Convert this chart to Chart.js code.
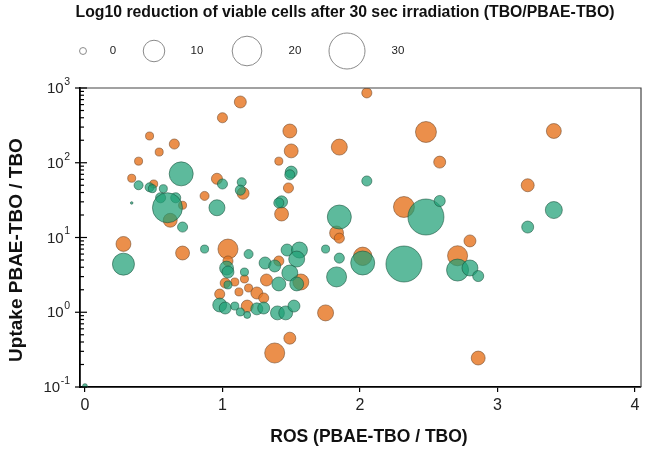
<!DOCTYPE html>
<html>
<head>
<meta charset="utf-8">
<script src="https://cdn.jsdelivr.net/npm/chart.js@4.4.1/dist/chart.umd.min.js"></script>
<style>
html,body{margin:0;padding:0;background:#fff;overflow:hidden;}
canvas{display:block;}
</style>
</head>
<body>
<canvas id="c" width="645" height="449" style="width:645px;height:449px;"></canvas>
<script>
// ---- data (ROS, uptake, log10 reduction) ----
const orangeROS = [1.13,1.00,0.47,0.65,0.54,0.39,0.34,0.96,1.15,0.50,0.71,0.62,0.87,0.28,2.05,1.49,1.85,1.50,1.41,1.48,1.43,1.83,1.85,1.04,0.71,2.48,3.41,2.58,3.22,2.32,2.80,2.71,2.02,2.86,1.75,1.49,1.38,1.57,1.32,1.41,1.16,1.09,1.02,1.19,1.12,1.25,1.30,0.98,1.18,1.04];
const orangeUptake = [650,400,228,178,139,105,62,61,39,52,27,17,36,8.2,860,266,162,144,105,46,20.6,11.5,9.8,7.0,6.2,258,266,102,50,25.6,9.0,5.7,5.6,0.244,0.98,0.45,0.285,2.54,2.70,4.85,2.79,2.54,2.46,2.11,1.87,1.81,1.55,1.75,1.21,4.85];
const orangeReduction = [2.3,1.3,0.4,1.3,0.4,0.4,0.4,1.8,2.3,0.4,0.4,3.5,0.8,4.2,1.3,3.5,5,3.5,0.4,1.3,3.5,3.5,1.3,8.5,3.5,9.4,4.2,2.3,2.9,9.4,2.3,8.5,7,3.5,5,2.3,8.5,5,2.3,1.3,0.4,0.4,1.3,0.4,0.4,2.3,1.3,1.3,2.3,1.3];

const greenROS = [0.70,1.00,1.14,1.13,0.39,0.47,0.49,0.57,0.55,0.66,0.60,0.71,0.96,0.34,1.50,1.49,2.05,1.43,1.41,1.85,3.41,3.22,2.48,2.58,0.28,0.87,1.19,1.31,1.03,1.04,1.16,1.04,0.98,1.02,1.09,1.13,1.18,1.25,1.30,1.40,1.46,1.52,1.47,1.56,1.75,1.85,2.02,1.83,1.38,1.54,1.49,1.54,1.41,2.32,2.71,2.80,2.86,0.00];
const greenUptake = [71,52,55,43,50,47,45,45,34,34,25,13.8,25,29,75,69,57,30,29,18.8,23.3,13.8,18.8,30.8,4.4,7.0,6.0,4.56,3.9,3.45,3.45,2.32,1.25,1.14,1.21,1.01,0.92,1.11,1.14,0.98,0.98,1.21,6.8,6.8,7.0,5.3,4.56,2.97,4.16,5.15,3.35,2.39,2.39,4.42,3.67,3.91,3.05,0.103];
const greenReduction = [12.7,1.3,0.8,1.3,0.8,0.8,0.4,0.4,1.3,1.3,20.5,1.3,5,-1,2.3,1.3,1.3,2.3,1.3,12.7,5.8,2.3,30,1.8,10.5,0.4,0.8,2.3,3.5,2.3,0.4,0.4,3.5,2.3,0.4,0.4,0,2.3,2.3,3.5,3.5,2.3,2.3,5,0.4,1.3,12.7,8.5,2.3,5,5,3.5,3.5,30,10.5,5,1.8,-0.6];

const xTickValues = [0,1,2,3,4];
const yTickValues = [0.1,1,10,100,1000];
const yTickExponents = ['-1','0','1','2','3'];
const sizeLegendValues = [0,10,20,30];
const sizeLegendLabels = ['0','10','20','30'];

const titleText = 'Log10 reduction of viable cells after 30 sec irradiation (TBO/PBAE-TBO)';
const xTitle = 'ROS (PBAE-TBO / TBO)';
const yTitle = 'Uptake PBAE-TBO / TBO';

// bubble area grows linearly with the reduction value
function radiusFor(v){ return Math.sqrt(Math.max(1.5, 12 + 10.4 * v)); }

function toPoints(xs, ys, vs){
  return xs.map((x,i)=>({x:x, y:ys[i], r:radiusFor(vs[i]), v:vs[i]}));
}

const FONT = '"Liberation Sans", Arial, Helvetica, sans-serif';

const decorPlugin = {
  id:'decor',
  afterDraw(chart){
    const ctx = chart.ctx;
    const a = chart.chartArea;
    const ys = chart.scales.y;
    ctx.save();
    // frame top/right
    ctx.strokeStyle = '#444';
    ctx.lineWidth = 1.2;
    ctx.beginPath();
    ctx.moveTo(a.left, a.top); ctx.lineTo(a.right, a.top); ctx.lineTo(a.right, a.bottom);
    ctx.stroke();
    // y ticks (major + log minor)
    ctx.strokeStyle = '#000';
    ctx.lineWidth = 1.2;
    for (let d=-1; d<=2; d++){
      for (let m=2; m<=9; m++){
        const py = ys.getPixelForValue(m*Math.pow(10,d));
        ctx.beginPath(); ctx.moveTo(a.left-1, py); ctx.lineTo(a.left+4, py); ctx.stroke();
      }
    }
    // y tick labels 10^n
    ctx.fillStyle = '#222';
    ctx.textBaseline = 'middle';
    yTickValues.forEach((v,i)=>{
      const py = ys.getPixelForValue(v);
      ctx.beginPath(); ctx.moveTo(a.left-5, py); ctx.lineTo(a.left+7, py); ctx.stroke();
      const exp = yTickExponents[i];
      ctx.font = '10.5px ' + FONT;
      const ew = ctx.measureText(exp).width;
      ctx.textAlign = 'left';
      const ex = 70 - ew;
      ctx.fillText(exp, ex, py - 6);
      ctx.font = '15px ' + FONT;
      ctx.textAlign = 'right';
      ctx.fillText('10', ex - 0.5, py + 1);
    });
    // main title
    ctx.fillStyle = '#111';
    ctx.font = 'bold 15.8px ' + FONT;
    ctx.textAlign = 'center';
    ctx.fillText(titleText, 345, 13);
    // size legend
    const cx = [83,154,247,347];
    const lx = [113,197,295,398];
    ctx.font = '11.5px ' + FONT;
    ctx.strokeStyle = '#8a8a8a';
    ctx.lineWidth = 1;
    sizeLegendValues.forEach((v,i)=>{
      ctx.beginPath(); ctx.arc(cx[i], 51, radiusFor(v), 0, Math.PI*2); ctx.stroke();
      ctx.fillStyle = '#222';
      ctx.fillText(sizeLegendLabels[i], lx[i], 51);
    });
    // axis titles
    ctx.fillStyle = '#111';
    ctx.font = 'bold 17.5px ' + FONT;
    ctx.fillText(xTitle, 369, 437);
    ctx.translate(17, 250);
    ctx.rotate(-Math.PI/2);
    ctx.font = 'bold 19px ' + FONT;
    ctx.fillText(yTitle, 0, 0);
    ctx.restore();
  }
};

new Chart(document.getElementById('c'), {
  type:'bubble',
  data:{
    datasets:[
      { label:'TBO', data: toPoints(orangeROS, orangeUptake, orangeReduction),
        backgroundColor:'rgba(230,118,35,0.82)', borderColor:'rgba(110,70,40,0.7)', borderWidth:0.8, order:1 },
      { label:'PBAE-TBO', data: toPoints(greenROS, greenUptake, greenReduction),
        backgroundColor:'rgba(30,160,118,0.72)', borderColor:'rgba(25,80,60,0.7)', borderWidth:0.8, order:0 }
    ]
  },
  options:{
    responsive:false,
    animation:false,
    events:[],
    layout:{ autoPadding:false, padding:{ top:88, right:4, left:0, bottom:0 } },
    plugins:{ legend:{display:false}, tooltip:{enabled:false}, title:{display:false} },
    scales:{
      x:{
        type:'linear', min:-0.036, max:4.044,
        afterBuildTicks(s){ s.ticks = xTickValues.map(v=>({value:v})); },
        afterFit(s){ s.height = 62; s.paddingLeft = 0; s.paddingRight = 0; },
        grid:{ display:true, drawOnChartArea:false, drawTicks:true, tickLength:5, color:'#000', lineWidth:1.2 },
        border:{ display:true, color:'#000', width:1.8 },
        ticks:{ font:{family:FONT, size:16}, color:'#222', padding:4, maxRotation:0 },
        title:{ display:false, text:xTitle }
      },
      y:{
        type:'logarithmic', min:0.1, max:1000,
        afterBuildTicks(s){ s.ticks = yTickValues.map(v=>({value:v, major:true})); },
        afterFit(s){ s.width = 80; s.paddingTop = 0; s.paddingBottom = 0; },
        grid:{ display:true, drawOnChartArea:false, drawTicks:false },
        border:{ display:true, color:'#000', width:1.8 },
        ticks:{ display:false },
        title:{ display:false, text:yTitle }
      }
    }
  },
  plugins:[decorPlugin]
});
</script>
</body>
</html>
